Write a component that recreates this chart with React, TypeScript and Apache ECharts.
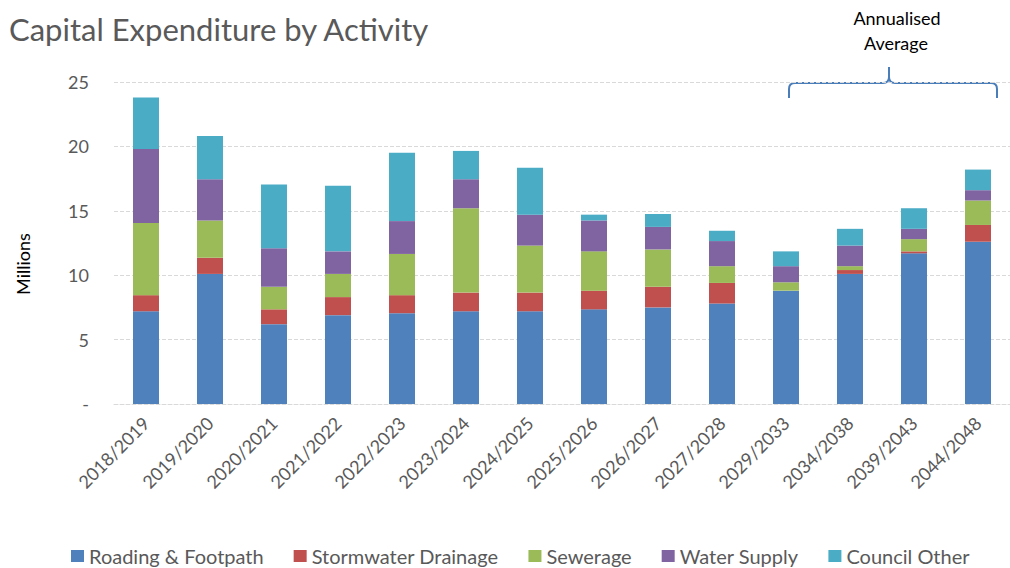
import React, { useEffect, useRef } from "react";
import * as echarts from "echarts";

const categories = ["2018/2019","2019/2020","2020/2021","2021/2022","2022/2023","2023/2024","2024/2025","2025/2026","2026/2027","2027/2028","2029/2033","2034/2038","2039/2043","2044/2048"];
const roading = [7.2, 10.1, 6.2, 6.9, 7.05, 7.2, 7.2, 7.35, 7.5, 7.8, 8.8, 10.1, 11.7, 12.6];
const stormwater = [1.25, 1.25, 1.15, 1.4, 1.4, 1.45, 1.45, 1.45, 1.6, 1.6, 0, 0.3, 0.15, 1.3];
const sewerage = [5.6, 2.9, 1.75, 1.8, 3.2, 6.55, 3.65, 3.05, 2.9, 1.3, 0.65, 0.3, 0.95, 1.9];
const waterSupply = [5.75, 3.2, 3.0, 1.75, 2.55, 2.25, 2.4, 2.4, 1.75, 1.95, 1.25, 1.6, 0.8, 0.8];
const councilOther = [4.0, 3.35, 4.95, 5.1, 5.3, 2.2, 3.65, 0.45, 1.0, 0.8, 1.15, 1.3, 1.6, 1.6];

const seriesNames = ["Roading & Footpath", "Stormwater Drainage", "Sewerage", "Water Supply", "Council Other"];
const seriesData = [roading, stormwater, sewerage, waterSupply, councilOther];
const colors = ["#4f81bd", "#c0504d", "#9bbb59", "#8064a2", "#4bacc6"];

const FONT = "Lato, 'Open Sans', sans-serif";

const braceD =
  "M789 98 L789 89 Q789 83 795 83 L883 83 Q889 83 889 77 L889 67 M889 77 Q889 83 895 83 L991 83 Q997 83 997 89 L997 98";

let registered = false;

export default function App() {
  const ref = useRef<HTMLDivElement>(null);
  useEffect(() => {
    if (!ref.current) return;
    if (!registered) {
      echarts.graphic.registerShape("brace", echarts.graphic.extendPath(braceD, {}));
      registered = true;
    }
    const chart = echarts.init(ref.current, undefined, { renderer: "svg" });
    chart.setOption({
      animation: false,
      color: colors,
      textStyle: { fontFamily: FONT },
      title: {
        text: "Capital Expenditure by Activity",
        left: 9,
        top: 13,
        padding: 0,
        textStyle: { fontFamily: FONT, fontSize: 31, fontWeight: "normal", color: "#595959" },
      },
      legend: {
        data: seriesNames,
        left: 71,
        top: 546,
        padding: 0,
        itemWidth: 13,
        itemHeight: 12,
        itemGap: 30,
        icon: "rect",
        textStyle: { fontFamily: FONT, fontSize: 20, color: "#595959", padding: [0, 0, 0, 0] },
      },
      grid: { left: 114, top: 82, width: 903, bottom: 164, containLabel: false },
      xAxis: {
        type: "category",
        data: categories,
        axisTick: { show: false },
        axisLine: { show: true, lineStyle: { color: "#d9d9d9", type: "dashed" } },
        axisLabel: { rotate: 45, margin: 16, fontFamily: FONT, fontSize: 18, color: "#595959" },
      },
      yAxis: {
        type: "value",
        min: 0,
        max: 25,
        interval: 5,
        axisLine: { show: false },
        axisTick: { show: false },
        splitLine: { lineStyle: { color: "#d9d9d9", type: "dashed" } },
        axisLabel: {
          margin: 25,
          fontFamily: FONT,
          fontSize: 18,
          color: "#595959",
          formatter: (v: number) => (v === 0 ? "-" : String(v)),
        },
      },
      series: seriesNames.map((name, i) => ({
        name,
        type: "bar",
        stack: "total",
        barWidth: 26,
        data: seriesData[i],
        itemStyle: { color: colors[i] },
      })),
      graphic: [
        {
          type: "text",
          x: 23,
          y: 264,
          rotation: Math.PI / 2,
          style: { text: "Millions", fontFamily: FONT, fontSize: 18, fill: "#000", align: "center", verticalAlign: "middle" },
        },
        {
          type: "text",
          x: 897,
          y: 18,
          style: { text: "Annualised", fontFamily: FONT, fontSize: 18, fill: "#000", align: "center", verticalAlign: "middle" },
        },
        {
          type: "text",
          x: 896,
          y: 43,
          style: { text: "Average", fontFamily: FONT, fontSize: 18, fill: "#000", align: "center", verticalAlign: "middle" },
        },
        {
          type: "brace",
          x: 0,
          y: 0,
          style: { stroke: "#4a7ebb", fill: "none", lineWidth: 2 },
        },
      ],
    });
    return () => chart.dispose();
  }, []);
  return <div ref={ref} style={{ width: 1010, height: 568, position: "absolute", left: 0, top: 0 }} />;
}
